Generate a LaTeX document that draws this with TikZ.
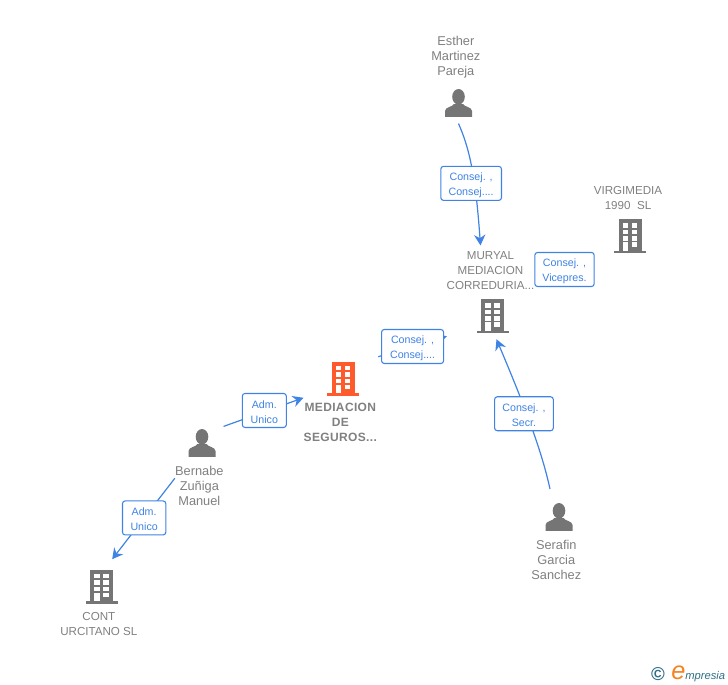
\documentclass[tikz,border=0pt]{standalone}
\usepackage{fontspec}
\setmainfont{Liberation Sans}
\usetikzlibrary{positioning,arrows.meta}
\definecolor{icongrey}{HTML}{757575}
\definecolor{textgrey}{HTML}{808080}
\definecolor{linkblue}{HTML}{3F83E4}
\definecolor{mainorange}{HTML}{FF5A2B}
\definecolor{logoteal}{HTML}{2F6F85}
\definecolor{logoorange}{HTML}{F58220}

\tikzset{
	pics/building/.style={code={
		\fill (-16,14.5) rectangle (16,17);
		\fill (-11.5,-17) rectangle (11.5,14.5);
		\foreach \row in {-13,-6.5,0} {
			\fill[white] (-7.2,\row) rectangle ++(5.5,4.5);
			\fill[white] (1.8,\row) rectangle ++(5.5,4.5);
		}
		\fill[white] (-7.2,6) rectangle ++(5.5,8.5);
		\fill[white] (1.8,6) rectangle ++(5.5,4.5);
	}},
	pics/person/.style={code={
		\fill (0,-6.2) ellipse (6.3 and 7.8);
		\fill (-13.5,13.8) -- (-13.5,8) .. controls (-13.5,4) and (-6,4) .. (-4.5,1)
			-- (4.5,1) .. controls (6,4) and (13.5,4) .. (13.5,8) -- (13.5,13.8) -- cycle;
	}}
}

\begin{document}
\begin{tikzpicture}[x=0.75pt,y=-0.75pt,>={Stealth[length=8pt,width=8.5pt,inset=2.6pt]},
	link/.style={draw=linkblue,line width=0.9pt},
	imgbox/.style={inner sep=0pt,minimum width=24pt,minimum height=25.5pt},
	faceimg/.style={inner sep=0pt,minimum width=20pt,minimum height=20.5pt},
	firmtext/.style={text=textgrey,font=\fontsize{8.7pt}{11.25pt}\selectfont,align=center,inner sep=0pt},
	folktext/.style={text=textgrey,font=\fontsize{9.6pt}{11.25pt}\selectfont,align=center,inner sep=0pt},
	rolebox/.style={draw=linkblue,fill=white,rounded corners=2pt,line width=0.8pt,text=linkblue,
		font=\fontsize{8pt}{11.25pt}\selectfont,align=center,inner sep=0pt,
		text height=19.5pt,minimum height=25.5pt}]
	\useasboundingbox (0,0) rectangle (728,685);

	% companies and people
	\node[imgbox] (muryalImg) at (492.5,316) {};
	\pic[fill=icongrey] at (muryalImg) {building};
	\node[firmtext,above=6.5pt of muryalImg,xshift=-1.5pt] (muryalName) {MURYAL\\MEDIACION\\CORREDURIA...};
	\node[imgbox] (virgiImg) at (630,236) {};
	\pic[fill=icongrey] at (virgiImg) {building};
	\node[firmtext,above=6.5pt of virgiImg,xshift=-1.5pt] (virgiName) {VIRGIMEDIA\\1990\ \ SL};
	\node[imgbox] (mediacionImg) at (343,378.5) {};
	\pic[fill=mainorange] at (mediacionImg) {building};
	\node[firmtext,below=5.5pt of mediacionImg,xshift=-2pt,
		font=\fontsize{9pt}{11.25pt}\selectfont\bfseries\addfontfeature{LetterSpace=3}] (mediacionName) {MEDIACION\\DE\\SEGUROS...};
	\node[imgbox] (contImg) at (101.5,586.5) {};
	\pic[fill=icongrey] at (contImg) {building};
	\node[firmtext,below=6.5pt of contImg,xshift=-2pt] (contName) {CONT\\URCITANO SL};

	\node[faceimg] (estherImg) at (458.5,103) {};
	\pic[fill=icongrey] at (estherImg) {person};
	\node[folktext,above=8.25pt of estherImg,xshift=-2pt] (estherName) {Esther\\Martinez\\Pareja};
	\node[faceimg] (bernabeImg) at (202,443) {};
	\pic[fill=icongrey] at (bernabeImg) {person};
	\node[folktext,below=7pt of bernabeImg,xshift=-2pt] (bernabeName) {Bernabe\\Zuñiga\\Manuel};
	\node[faceimg] (serafinImg) at (559,517) {};
	\pic[fill=icongrey] at (serafinImg) {person};
	\node[folktext,below=7pt of serafinImg,xshift=-2pt] (serafinName) {Serafin\\Garcia\\Sanchez};

	% relations
	\draw[link,->] ([yshift=-5pt]estherImg.south) .. controls +(11,25) and +(-5,-70) ..
		node[rolebox,pos=.63,xshift=-2.4pt,minimum width=45.5pt] (consejEsther) {Consej. ,\\Consej....}
		([xshift=-7.5pt,yshift=4.5pt]muryalName.north);
	\draw[link,->] ([xshift=-6.75pt,yshift=10.5pt]serafinImg.north) .. controls +(-9,-42) and +(24,57) ..
		node[rolebox,pos=.54,xshift=-2pt,minimum width=44pt] (consejSerafin) {Consej. ,\\Secr.}
		([xshift=3pt,yshift=-4.5pt]muryalImg.south);
	\draw[link,->] ([xshift=14.25pt,yshift=3.4pt]mediacionImg.north east) --
		node[rolebox,pos=.5,minimum width=46.5pt] (consejMediacion) {Consej. ,\\Consej....}
		([xshift=-22pt,yshift=-2.25pt]muryalImg.south west);
	\draw[link,->] ([xshift=6pt,yshift=2pt]bernabeImg.north east) --
		node[rolebox,pos=.51,yshift=1pt,minimum width=33pt] (admBernabe) {Adm.\\Unico}
		([yshift=4pt]mediacionName.north west);
	\draw[link,->] ([yshift=6pt]bernabeName.west) --
		node[rolebox,pos=.49,minimum width=32.5pt] (admCont) {Adm.\\Unico}
		([xshift=8pt,yshift=7.5pt]contImg.north);
	\node[rolebox,minimum width=44.5pt] (consejVirgi) at (564.5,269.5) {Consej. ,\\Vicepres.};

	% logo
	\node[text=logoteal,inner sep=0pt,font=\fontsize{14pt}{14pt}\selectfont\bfseries] (logoMark) at (658,674) {©};
	\node[inner sep=0pt,anchor=base west,font=\itshape\fontsize{8.4pt}{10pt}\selectfont,text=logoteal]
		(logoText) at (671,679) {\textcolor{logoorange}{\fontsize{19pt}{19pt}\selectfont e}mpresia};
\end{tikzpicture}
\end{document}
